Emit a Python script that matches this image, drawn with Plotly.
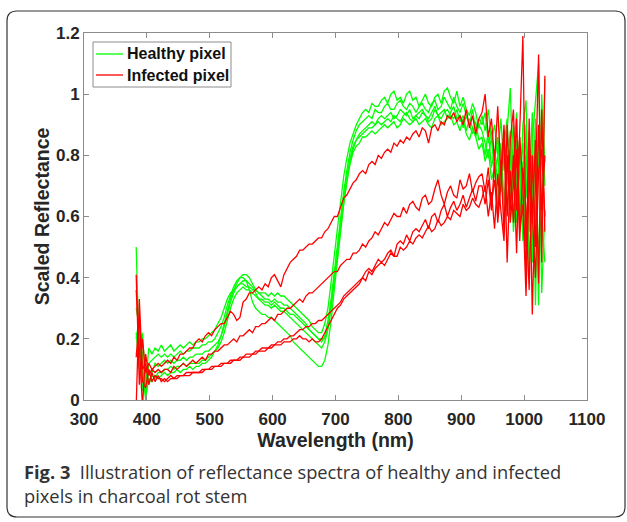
import plotly.graph_objects as go

# Wavelength grid (nm)
wavelength = [383 + 5 * i for i in range(131)]

healthy_1 = [0.50, 0.14, 0.22, 0.05, 0.17, 0.15, 0.17, 0.16, 0.18, 0.16,
             0.17, 0.18, 0.16, 0.17, 0.18, 0.17, 0.18, 0.19, 0.18, 0.19,
             0.19, 0.20, 0.20, 0.21, 0.22, 0.23, 0.25, 0.27, 0.30, 0.33,
             0.35, 0.36, 0.37, 0.38, 0.38, 0.37, 0.37, 0.36, 0.36, 0.35,
             0.35, 0.35, 0.34, 0.35, 0.34, 0.35, 0.34, 0.34, 0.33, 0.32,
             0.31, 0.30, 0.29, 0.28, 0.27, 0.26, 0.24, 0.23, 0.22, 0.22,
             0.25, 0.30, 0.38, 0.47, 0.56, 0.65, 0.73, 0.79, 0.84, 0.87,
             0.90, 0.92, 0.94, 0.95, 0.94, 0.97, 0.96, 0.96, 0.98, 0.99,
             0.97, 1.00, 1.01, 0.98, 0.99, 0.97, 1.00, 1.01, 0.98, 0.99,
             0.96, 0.98, 1.00, 0.97, 0.96, 0.99, 1.00, 0.97, 1.01, 1.02,
             0.99, 0.97, 1.01, 0.96, 0.99, 0.95, 0.93, 0.97, 0.94, 0.89,
             0.93, 0.88, 0.95, 0.85, 0.90, 0.80, 0.92, 0.75, 0.88, 1.02,
             0.70, 0.85, 0.62, 0.90, 0.98, 0.55, 0.85, 0.97, 1.10, 0.50, 1.05]

healthy_2 = [0.30, 0.24, 0.08, 0.02, 0.12, 0.13, 0.14, 0.15, 0.14, 0.15,
             0.14, 0.15, 0.14, 0.15, 0.16, 0.15, 0.16, 0.16, 0.17, 0.17,
             0.17, 0.18, 0.18, 0.19, 0.19, 0.20, 0.22, 0.24, 0.27, 0.31,
             0.34, 0.37, 0.39, 0.40, 0.41, 0.41, 0.40, 0.38, 0.36, 0.35,
             0.34, 0.33, 0.33, 0.32, 0.33, 0.32, 0.32, 0.31, 0.31, 0.30,
             0.29, 0.28, 0.27, 0.26, 0.25, 0.23, 0.22, 0.21, 0.20, 0.19,
             0.21, 0.26, 0.33, 0.42, 0.51, 0.60, 0.68, 0.75, 0.81, 0.85,
             0.88, 0.90, 0.91, 0.92, 0.93, 0.92, 0.95, 0.94, 0.94, 0.96,
             0.97, 0.95, 0.95, 0.97, 0.98, 0.96, 0.95, 0.97, 0.96, 0.94,
             0.96, 0.97, 0.95, 0.94, 0.97, 0.98, 0.95, 0.96, 0.99, 0.97,
             0.95, 0.99, 0.96, 0.94, 0.97, 0.93, 0.90, 0.95, 0.88, 0.92,
             0.90, 0.94, 0.84, 0.88, 0.78, 0.86, 0.70, 0.83, 0.92, 0.66,
             0.80, 0.94, 0.58, 0.78, 0.66, 0.88, 0.45, 0.92, 0.31, 0.95, 0.78]

healthy_3 = [0.20, 0.27, 0.12, 0.00, 0.10, 0.09, 0.12, 0.11, 0.12, 0.13,
             0.12, 0.13, 0.12, 0.13, 0.13, 0.14, 0.13, 0.14, 0.14, 0.15,
             0.15, 0.15, 0.16, 0.16, 0.17, 0.18, 0.19, 0.21, 0.24, 0.28,
             0.32, 0.35, 0.37, 0.38, 0.39, 0.39, 0.38, 0.37, 0.35, 0.33,
             0.32, 0.31, 0.31, 0.30, 0.31, 0.30, 0.29, 0.29, 0.28, 0.27,
             0.26, 0.25, 0.24, 0.23, 0.22, 0.21, 0.20, 0.19, 0.18, 0.17,
             0.19, 0.23, 0.30, 0.38, 0.47, 0.56, 0.65, 0.72, 0.78, 0.82,
             0.85, 0.87, 0.88, 0.89, 0.90, 0.91, 0.90, 0.92, 0.93, 0.92,
             0.93, 0.94, 0.92, 0.93, 0.95, 0.94, 0.93, 0.95, 0.92, 0.93,
             0.94, 0.95, 0.93, 0.92, 0.94, 0.96, 0.93, 0.94, 0.95, 0.92,
             0.94, 0.96, 0.92, 0.93, 0.89, 0.93, 0.90, 0.87, 0.91, 0.85,
             0.86, 0.80, 0.88, 0.76, 0.82, 0.70, 0.84, 0.65, 0.78, 0.88,
             0.60, 0.72, 0.86, 0.52, 0.80, 0.68, 0.94, 0.31, 0.82, 0.60, 0.45]

healthy_4 = [0.15, 0.20, 0.03, 0.10, 0.05, 0.08, 0.07, 0.09, 0.09, 0.10,
             0.10, 0.11, 0.10, 0.11, 0.11, 0.12, 0.11, 0.12, 0.12, 0.12,
             0.12, 0.13, 0.13, 0.14, 0.15, 0.16, 0.17, 0.19, 0.22, 0.26,
             0.30, 0.33, 0.35, 0.36, 0.37, 0.36, 0.36, 0.35, 0.34, 0.33,
             0.33, 0.32, 0.32, 0.31, 0.32, 0.31, 0.30, 0.30, 0.29, 0.28,
             0.28, 0.27, 0.26, 0.25, 0.24, 0.23, 0.22, 0.21, 0.20, 0.20,
             0.20, 0.24, 0.31, 0.40, 0.49, 0.58, 0.66, 0.73, 0.79, 0.83,
             0.85, 0.86, 0.87, 0.88, 0.89, 0.89, 0.90, 0.91, 0.90, 0.91,
             0.92, 0.91, 0.93, 0.92, 0.91, 0.93, 0.94, 0.92, 0.91, 0.93,
             0.92, 0.94, 0.93, 0.91, 0.92, 0.95, 0.93, 0.92, 0.94, 0.95,
             0.93, 0.92, 0.95, 0.91, 0.93, 0.88, 0.92, 0.89, 0.86, 0.90,
             0.88, 0.84, 0.79, 0.86, 0.74, 0.80, 0.68, 0.86, 0.62, 0.78,
             0.90, 0.58, 0.75, 0.84, 0.48, 0.76, 0.62, 0.89, 0.40, 1.00, 0.70]

healthy_5 = [0.22, 0.10, 0.16, 0.01, 0.07, 0.06, 0.08, 0.07, 0.08, 0.09,
             0.08, 0.09, 0.09, 0.10, 0.09, 0.10, 0.10, 0.11, 0.10, 0.11,
             0.11, 0.12, 0.12, 0.13, 0.14, 0.16, 0.18, 0.21, 0.25, 0.29,
             0.33, 0.36, 0.38, 0.40, 0.40, 0.39, 0.36, 0.32, 0.30, 0.29,
             0.28, 0.28, 0.27, 0.27, 0.26, 0.25, 0.24, 0.23, 0.22, 0.21,
             0.19, 0.18, 0.17, 0.16, 0.15, 0.14, 0.13, 0.12, 0.11, 0.11,
             0.13, 0.18, 0.26, 0.36, 0.46, 0.55, 0.64, 0.71, 0.77, 0.81,
             0.83, 0.84, 0.86, 0.86, 0.87, 0.88, 0.87, 0.88, 0.89, 0.90,
             0.89, 0.90, 0.91, 0.89, 0.90, 0.92, 0.91, 0.90, 0.91, 0.92,
             0.90, 0.91, 0.92, 0.90, 0.89, 0.92, 0.93, 0.90, 0.91, 0.92,
             0.93, 0.90, 0.91, 0.88, 0.92, 0.87, 0.85, 0.89, 0.86, 0.82,
             0.84, 0.78, 0.82, 0.72, 0.76, 0.64, 0.78, 0.60, 0.72, 0.82,
             0.55, 0.70, 0.80, 0.62, 0.90, 0.42, 0.72, 0.58, 0.88, 0.35, 0.62]

infected_1 = [0.41, 0.05, 0.20, 0.09, 0.12, 0.10, 0.11, 0.12, 0.11, 0.12,
              0.13, 0.12, 0.14, 0.13, 0.15, 0.15, 0.16, 0.17, 0.17, 0.19,
              0.20, 0.19, 0.21, 0.22, 0.21, 0.23, 0.24, 0.25, 0.25, 0.27,
              0.29, 0.28, 0.26, 0.27, 0.32, 0.33, 0.35, 0.35, 0.36, 0.37,
              0.36, 0.38, 0.37, 0.40, 0.41, 0.39, 0.37, 0.41, 0.43, 0.45,
              0.46, 0.47, 0.49, 0.49, 0.50, 0.51, 0.51, 0.52, 0.53, 0.53,
              0.55, 0.56, 0.58, 0.60, 0.60, 0.63, 0.66, 0.67, 0.69, 0.71,
              0.72, 0.74, 0.75, 0.74, 0.77, 0.78, 0.77, 0.80, 0.79, 0.81,
              0.82, 0.81, 0.84, 0.83, 0.85, 0.84, 0.86, 0.85, 0.87, 0.88,
              0.86, 0.89, 0.88, 0.84, 0.89, 0.90, 0.88, 0.91, 0.90, 0.93,
              0.92, 0.94, 0.91, 0.93, 0.90, 0.95, 0.89, 0.93, 0.87, 0.92,
              0.94, 1.00, 0.86, 0.92, 0.78, 0.96, 0.74, 0.90, 0.60, 0.85,
              0.95, 0.62, 0.88, 1.19, 0.50, 0.82, 0.28, 0.75, 1.13, 0.45, 1.06]

infected_2 = [0.36, 0.14, -0.02, 0.15, 0.08, 0.10, 0.09, 0.10, 0.09, 0.10,
              0.10, 0.09, 0.11, 0.10, 0.11, 0.12, 0.11, 0.12, 0.13, 0.12,
              0.13, 0.14, 0.13, 0.15, 0.15, 0.16, 0.16, 0.17, 0.18, 0.18,
              0.19, 0.20, 0.19, 0.21, 0.21, 0.22, 0.23, 0.22, 0.24, 0.24,
              0.25, 0.25, 0.26, 0.27, 0.26, 0.28, 0.28, 0.29, 0.30, 0.30,
              0.31, 0.32, 0.33, 0.32, 0.34, 0.35, 0.35, 0.36, 0.37, 0.38,
              0.39, 0.40, 0.41, 0.42, 0.42, 0.44, 0.45, 0.46, 0.46, 0.48,
              0.48, 0.49, 0.51, 0.50, 0.52, 0.53, 0.55, 0.54, 0.56, 0.58,
              0.57, 0.59, 0.61, 0.60, 0.60, 0.63, 0.61, 0.64, 0.65, 0.63,
              0.62, 0.66, 0.67, 0.64, 0.65, 0.69, 0.72, 0.67, 0.64, 0.68,
              0.70, 0.67, 0.66, 0.72, 0.69, 0.70, 0.74, 0.68, 0.71, 0.73,
              0.74, 0.68, 0.76, 0.64, 0.72, 0.60, 0.78, 0.55, 0.90, 0.62,
              0.80, 0.48, 0.86, 0.70, 0.40, 0.92, 0.58, 0.85, 0.38, 0.95, 0.55]

infected_3 = [0.14, 0.27, 0.06, 0.04, 0.10, 0.06, 0.08, 0.07, 0.07, 0.06,
              0.07, 0.08, 0.07, 0.08, 0.08, 0.08, 0.09, 0.09, 0.09, 0.09,
              0.09, 0.10, 0.10, 0.10, 0.11, 0.11, 0.11, 0.12, 0.12, 0.12,
              0.13, 0.13, 0.13, 0.14, 0.14, 0.15, 0.15, 0.15, 0.16, 0.16,
              0.17, 0.17, 0.17, 0.18, 0.18, 0.19, 0.19, 0.20, 0.20, 0.21,
              0.21, 0.22, 0.23, 0.23, 0.24, 0.24, 0.25, 0.25, 0.26, 0.26,
              0.27, 0.28, 0.29, 0.30, 0.31, 0.32, 0.34, 0.35, 0.36, 0.37,
              0.38, 0.39, 0.40, 0.42, 0.43, 0.42, 0.44, 0.46, 0.45, 0.46,
              0.48, 0.49, 0.47, 0.51, 0.52, 0.51, 0.54, 0.52, 0.55, 0.56,
              0.55, 0.57, 0.59, 0.56, 0.60, 0.61, 0.58, 0.62, 0.64, 0.60,
              0.63, 0.65, 0.62, 0.64, 0.67, 0.63, 0.66, 0.69, 0.65, 0.70,
              0.70, 0.64, 0.72, 0.62, 0.78, 0.58, 0.70, 0.88, 0.45, 0.75,
              0.58, 0.82, 0.52, 0.76, 0.62, 0.36, 0.80, 0.50, 0.90, 0.62, 0.80]

infected_4 = [-0.02, 0.33, 0.10, 0.12, 0.05, 0.09, 0.06, 0.08, 0.06, 0.07,
              0.06, 0.07, 0.07, 0.07, 0.08, 0.08, 0.08, 0.08, 0.09, 0.09,
              0.09, 0.09, 0.10, 0.10, 0.10, 0.11, 0.11, 0.11, 0.12, 0.12,
              0.12, 0.13, 0.13, 0.13, 0.14, 0.14, 0.14, 0.15, 0.15, 0.16,
              0.16, 0.16, 0.17, 0.17, 0.18, 0.18, 0.18, 0.19, 0.19, 0.19,
              0.20, 0.20, 0.21, 0.20, 0.20, 0.19, 0.20, 0.19, 0.19, 0.20,
              0.22, 0.24, 0.26, 0.28, 0.30, 0.31, 0.33, 0.34, 0.35, 0.36,
              0.37, 0.38, 0.40, 0.39, 0.42, 0.41, 0.43, 0.44, 0.45, 0.44,
              0.46, 0.48, 0.47, 0.47, 0.50, 0.49, 0.50, 0.52, 0.51, 0.53,
              0.54, 0.53, 0.55, 0.57, 0.55, 0.56, 0.59, 0.57, 0.58, 0.60,
              0.59, 0.62, 0.61, 0.60, 0.64, 0.62, 0.63, 0.66, 0.64, 0.63,
              0.66, 0.70, 0.60, 0.68, 0.56, 0.74, 0.62, 0.52, 0.80, 0.58,
              0.70, 0.92, 0.55, 0.64, 0.34, 0.72, 0.60, 0.40, 0.75, 0.82, 0.60]

healthy_series = [healthy_1, healthy_2, healthy_3, healthy_4, healthy_5]
infected_series = [infected_1, infected_2, infected_3, infected_4]
legend_labels = ["Healthy pixel", "Infected pixel"]

x_ticks = [300, 400, 500, 600, 700, 800, 900, 1000, 1100]
y_ticks = [0, 0.2, 0.4, 0.6, 0.8, 1, 1.2]
y_tick_text = ["0", "0.2", "0.4", "0.6", "0.8", "1", "1.2"]

GREEN = "#00FF00"
RED = "#FF0000"

fig = go.Figure()
for s in healthy_series:
    fig.add_trace(go.Scatter(x=wavelength, y=s, mode="lines",
                             line=dict(color=GREEN, width=1.3),
                             name=legend_labels[0], showlegend=False))
for s in infected_series:
    fig.add_trace(go.Scatter(x=wavelength, y=s, mode="lines",
                             line=dict(color=RED, width=1.3),
                             name=legend_labels[1], showlegend=False))

W, H = 627, 522
L, R, T, B = 84, 40, 33, 122
pw, ph = W - L - R, H - T - B

def px(xp):
    return (xp - L) / pw

def py(yp):
    return (H - B - yp) / ph

axis_col = "#8c8c8c"
sans = "Liberation Sans, Arial, sans-serif"
tick_font = dict(family=sans, size=17, color="#262626", weight="bold")

fig.update_layout(
    width=W, height=H,
    margin=dict(l=L, r=R, t=T, b=B),
    paper_bgcolor="white", plot_bgcolor="white",
    showlegend=False,
    xaxis=dict(range=[300, 1100], tickvals=x_ticks, ticktext=[str(v) for v in x_ticks],
               showgrid=False, zeroline=False, showline=True, linecolor=axis_col,
               linewidth=1, mirror="ticks", ticks="inside", ticklen=5,
               tickcolor=axis_col, tickfont=tick_font, ticklabelstandoff=4,
               title=dict(text="Wavelength (nm)", standoff=3,
                          font=dict(family=sans, size=19.5, color="#262626",
                                    weight="bold"))),
    yaxis=dict(range=[0, 1.2], tickvals=y_ticks, ticktext=y_tick_text,
               showgrid=False, zeroline=False, showline=True, linecolor=axis_col,
               linewidth=1, mirror="ticks", ticks="inside", ticklen=5,
               tickcolor=axis_col, tickfont=tick_font,
               title=dict(text="Scaled Reflectance", standoff=1,
                          font=dict(family=sans, size=19.5, color="#262626",
                                    weight="bold"))),
)

# Legend drawn manually (box, sample lines, labels)
fig.add_shape(type="rect", xref="paper", yref="paper",
              x0=px(93), x1=px(231), y0=py(87), y1=py(42),
              line=dict(color="#8c8c8c", width=1), fillcolor="white")
for label, col, yy in [(legend_labels[0], GREEN, 54), (legend_labels[1], RED, 75)]:
    fig.add_shape(type="line", xref="paper", yref="paper",
                  x0=px(96), x1=px(123), y0=py(yy), y1=py(yy),
                  line=dict(color=col, width=1.3))
    fig.add_annotation(xref="paper", yref="paper", x=px(125), y=py(yy),
                       xanchor="left", yanchor="middle", showarrow=False,
                       text=label, font=dict(family=sans, size=16,
                                             color="#111111", weight="bold"))

# Rounded outer frame
x0, x1 = px(7), px(625)
y0, y1 = py(517), py(11)
rx, ry = 10 / pw, 10 / ph
path = (f"M {x0+rx},{y1} L {x1-rx},{y1} Q {x1},{y1} {x1},{y1-ry} "
        f"L {x1},{y0+ry} Q {x1},{y0} {x1-rx},{y0} L {x0+rx},{y0} "
        f"Q {x0},{y0} {x0},{y0+ry} L {x0},{y1-ry} Q {x0},{y1} {x0+rx},{y1} Z")
fig.add_shape(type="path", xref="paper", yref="paper", path=path,
              line=dict(color="#333333", width=1.2), layer="below")

cap_font = dict(family="Open Sans, Noto Sans, sans-serif", size=18.3, color="#333333")
fig.add_annotation(xref="paper", yref="paper", x=px(22), y=py(471),
                   xanchor="left", yanchor="middle", showarrow=False,
                   text="<b>Fig. 3</b>  Illustration of reflectance spectra of healthy and infected",
                   font=cap_font)
fig.add_annotation(xref="paper", yref="paper", x=px(22), y=py(496),
                   xanchor="left", yanchor="middle", showarrow=False,
                   text="pixels in charcoal rot stem", font=cap_font)

fig.write_html("out.html")
